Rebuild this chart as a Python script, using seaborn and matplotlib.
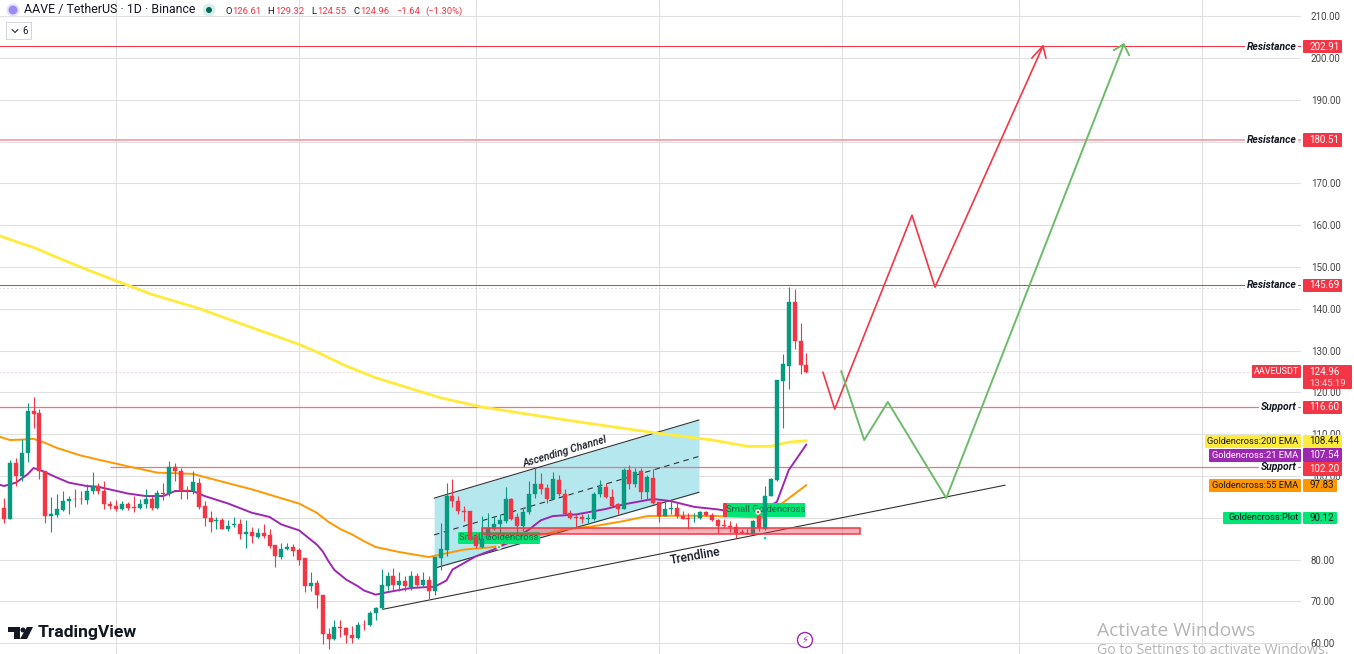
#!/usr/bin/env python
import matplotlib
matplotlib.use("Agg")
import matplotlib.pyplot as plt
from matplotlib.patches import Circle, FancyBboxPatch, Polygon, Rectangle
from matplotlib.transforms import Affine2D
import pandas as pd
import seaborn as sns

opens = [92.4, 89.7, 103.1, 100.0, 105.4, 115.5, 115.0, 101.2, 90.4, 90.7,
         91.8, 94.0, 94.5, 94.5, 94.2, 96.4, 97.7, 96.5, 93.3, 92.9,
         92.0, 93.4, 92.6, 92.3, 93.4, 94.4, 92.4, 96.0, 95.6, 102.2,
         101.2, 96.6, 96.4, 98.4, 92.9, 90.0, 89.2, 89.4, 87.4, 88.2,
         88.4, 86.0, 86.7, 85.4, 86.4, 85.9, 83.4, 80.7, 82.5, 83.0,
         82.2, 80.3, 73.6, 74.3, 71.4, 62.2, 60.9, 63.9, 63.6, 62.0,
         61.2, 64.4, 64.3, 67.2, 68.4, 73.6, 76.0, 73.8, 74.9, 73.5,
         76.0, 73.8, 75.1, 72.5, 80.3, 82.4, 95.2, 94.0, 91.7, 91.6,
         85.3, 83.0, 85.6, 87.3, 88.6, 89.2, 94.4, 90.1, 88.1, 91.3,
         95.6, 98.1, 97.1, 94.5, 99.0, 95.8, 91.2, 90.1, 90.2, 89.7,
         89.7, 95.6, 97.4, 95.0, 93.4, 92.1, 101.5, 98.0, 101.1, 96.1,
         99.6, 93.7, 90.5, 92.1, 92.4, 90.5, 90.0, 89.9, 89.9, 91.3,
         90.7, 89.5, 88.3, 88.1, 87.9, 86.6, 86.4, 86.0, 90.4, 87.3,
         95.2, 99.0, 122.7, 126.3, 141.6, 132.4, 126.61]
closes = [89.7, 103.1, 100.0, 105.5, 115.5, 114.8, 101.2, 90.4, 90.8, 92.0,
          94.1, 94.4, 94.4, 94.4, 96.5, 97.7, 96.5, 93.2, 92.8, 92.0,
          93.4, 92.4, 92.4, 93.4, 94.4, 92.4, 96.0, 95.8, 102.2, 101.2,
          96.4, 96.3, 98.5, 92.6, 89.9, 89.1, 89.4, 87.4, 88.1, 88.4,
          86.0, 86.7, 85.6, 86.4, 85.6, 83.2, 80.8, 82.6, 83.0, 82.1,
          80.0, 73.6, 74.3, 71.4, 62.1, 60.9, 63.8, 63.6, 61.9, 61.2,
          64.4, 64.3, 67.3, 68.4, 73.8, 76.0, 73.8, 74.9, 73.6, 76.0,
          73.8, 75.1, 72.5, 80.6, 82.6, 95.2, 94.0, 91.6, 91.4, 85.0,
          83.2, 85.0, 87.6, 88.6, 89.4, 94.4, 89.7, 88.1, 91.3, 95.8,
          98.2, 96.9, 94.5, 99.2, 95.6, 91.0, 90.0, 89.9, 89.7, 90.0,
          95.8, 97.4, 95.0, 92.9, 92.0, 101.5, 98.0, 100.9, 96.1, 99.8,
          93.6, 90.5, 92.1, 92.4, 90.5, 89.7, 89.8, 90.0, 91.3, 90.6,
          89.4, 88.1, 88.0, 87.9, 86.4, 86.4, 86.2, 89.3, 87.6, 95.3,
          99.2, 123.0, 126.7, 141.6, 132.3, 126.5, 124.96]
highs = [94.8, 103.9, 104.3, 108.9, 117.5, 119.0, 116.1, 101.2, 95.0, 95.8,
         96.4, 95.3, 96.9, 96.4, 98.0, 101.0, 98.4, 98.8, 93.9, 94.2,
         94.0, 93.7, 95.2, 94.5, 96.8, 95.2, 96.6, 98.4, 103.7, 103.0,
         102.0, 97.7, 101.2, 99.6, 93.9, 91.7, 90.2, 90.0, 89.4, 90.2,
         89.7, 89.4, 87.8, 87.6, 88.6, 87.2, 83.6, 84.0, 84.0, 83.8,
         82.8, 80.3, 77.1, 75.2, 71.6, 63.6, 65.6, 65.5, 63.9, 64.0,
         65.1, 65.6, 67.6, 68.7, 77.8, 77.0, 78.0, 77.0, 76.0, 77.2,
         76.8, 77.0, 76.0, 80.6, 88.8, 98.4, 99.3, 95.2, 92.8, 91.6,
         86.4, 90.4, 91.2, 90.4, 90.8, 97.4, 94.8, 91.2, 92.6, 98.7,
         101.9, 100.6, 98.0, 100.9, 100.3, 96.9, 91.8, 90.8, 91.0, 90.8,
         96.1, 99.0, 98.4, 96.9, 93.6, 101.9, 102.7, 101.9, 101.9, 100.3,
         101.7, 93.7, 93.7, 94.0, 93.6, 91.6, 91.2, 91.2, 91.6, 91.6,
         91.2, 89.6, 89.6, 89.2, 88.8, 87.2, 87.6, 89.4, 92.0, 97.7,
         99.5, 123.0, 129.1, 145.3, 144.8, 136.7, 129.32]
lows = [88.8, 89.7, 97.7, 98.8, 103.3, 111.5, 99.3, 88.8, 86.5, 90.1,
        91.6, 91.0, 92.5, 93.4, 93.2, 95.6, 95.8, 92.1, 92.1, 91.5,
        91.8, 91.8, 91.3, 92.1, 92.4, 91.8, 92.0, 94.2, 95.2, 98.8,
        94.5, 94.5, 95.6, 92.1, 88.0, 86.5, 87.3, 87.2, 86.8, 87.8,
        84.8, 82.7, 84.0, 85.2, 85.2, 82.8, 78.3, 80.2, 82.2, 80.8,
        78.6, 72.2, 72.4, 68.4, 59.7, 58.6, 60.7, 61.5, 60.1, 60.1,
        61.0, 63.2, 64.0, 65.5, 68.2, 72.7, 72.4, 72.4, 72.4, 72.8,
        73.5, 73.5, 70.6, 71.4, 77.6, 80.8, 92.6, 90.8, 89.2, 84.6,
        82.8, 82.8, 84.8, 87.0, 86.4, 88.8, 89.4, 86.0, 86.8, 90.8,
        94.8, 95.6, 93.6, 94.4, 95.2, 90.8, 89.7, 87.8, 88.8, 88.8,
        89.4, 95.0, 94.8, 92.6, 90.8, 92.0, 96.9, 97.4, 94.5, 94.4,
        93.4, 88.9, 90.4, 90.8, 90.0, 89.6, 87.3, 88.9, 89.7, 90.4,
        89.2, 86.4, 87.6, 86.5, 85.2, 86.2, 86.0, 86.0, 86.8, 87.0,
        95.2, 98.8, 111.5, 120.9, 130.5, 124.5, 124.55]

# moving averages at these candle numbers
ema200_day = [-1, 3, 5, 9, 14, 19, 25, 33, 42, 50, 53, 58, 63, 69, 74, 81, 91, 101, 111, 120, 126, 130, 133, 136]
ema200 = [157.6, 155.6, 154.7, 152.3, 149.4, 146.7, 143.5, 140.1, 135.5, 131.5, 129.7, 126.3, 123.5,
          120.9, 118.7, 116.5, 114.3, 112.2, 110.2, 108.6, 107.1, 107.1, 108.1, 108.44]
ema55_day = [-1, 1, 3, 5, 7, 9, 13, 16, 22, 26, 32, 36, 42, 50, 53, 55, 57, 59, 61, 63, 67, 72, 74,
             78, 83, 89, 95, 100, 105, 109, 115, 121, 129, 132, 136]
ema55 = [109.5, 108.6, 108.7, 108.9, 107.9, 106.7, 104.9, 103.9, 102.0, 100.8, 100.5, 99.0,
         96.8, 93.4, 91.2, 89.0, 87.3, 86.0, 84.4, 83.0, 81.8, 80.6, 81.2, 82.4, 83.0, 85.2, 87.2, 88.0,
         89.2, 90.4, 90.5, 90.4, 90.0, 93.6, 97.83]
ema21_day = [-1, 0, 2, 4, 5, 6, 9, 11, 14, 16, 21, 24, 27, 29, 32, 34, 38, 42, 45, 47, 50, 53, 54,
             55, 56, 58, 60, 61, 63, 65, 69, 73, 75, 76, 78, 80, 83, 86, 89, 91, 93, 97, 102, 105, 110,
             113, 117, 121, 125, 128, 131, 133, 136]
ema21 = [98.0, 97.6, 98.4, 100.4, 101.9, 101.5, 99.6, 98.4, 97.6, 97.4, 95.8, 95.2, 95.2, 96.4, 96.4,
         95.2, 93.4, 91.2, 90.2, 88.4, 87.0, 83.6, 82.0, 79.6, 77.5, 75.2, 73.6, 72.6, 71.6, 72.2, 73.2,
         73.5, 75.0, 77.6, 79.2, 80.8, 82.4, 84.4, 87.2, 89.4, 90.4, 90.8, 92.1, 93.2, 94.5,
         94.0, 92.6, 92.0, 91.0, 91.5, 93.8, 101.4, 107.54]

# drawings on the chart
red_path_day = [138.8, 140.8, 153.9, 157.8, 176.1]
red_path = [124.85, 116.0, 162.4, 145.2, 202.9]
red_head_day = [174.2, 176.1, 176.6]
red_head = [200.0, 202.9, 200.0]
green_path_day = [141.9, 145.8, 149.8, 159.7, 189.8]
green_path = [125.1, 108.6, 117.7, 94.7, 203.3]
green_head_day = [188.1, 189.8, 190.7]
green_head = [201.9, 203.3, 200.7]
trend_day = [64.2, 169.7]
trend = [68.1, 97.8]
channel_day = [72.9, 117.8]
channel_top = [94.7, 113.4]
channel_mid = [85.9, 104.7]
channel_bottom = [77.9, 96.1]
zone_day = [81, 145]
zone = [86.1, 87.5]

resistance = [202.91, 145.69]
soft_resistance = 180.51
support = [116.60, 102.20]
last_price = 124.96
recent_high = 145.0
price_ticks = list(range(60, 220, 10))
month_starts = [19, 50, 80, 111, 142, 172, 203]

RED = "#F23645"
SOFT_RED = "#EE7280"
GREEN = "#089981"
GRID = "#E0E0E0"
W, H = 1354, 654

sns.set_theme(style="white")
plt.rcParams["font.family"] = ["Roboto", "DejaVu Sans"]

fig = plt.figure(figsize=(W / 100, H / 100), dpi=100)
ax = fig.add_axes([0, 0, 1301 / W, 1])
ax.set_xlim(-0.68, 219.83)
ax.set_ylim(57.4, 213.9)
px = Affine2D().scale(1, -1).translate(0, H)  # top-left pixels, for the screen furniture

ax.set_xticks(month_starts)
ax.set_yticks(price_ticks)
ax.set_yticklabels([f"{p:.2f}" for p in price_ticks], fontsize=7, color="#444444")
ax.set_xticklabels([])
ax.yaxis.tick_right()
ax.tick_params(axis="both", length=0, pad=7)
ax.grid(True, color=GRID, lw=0.8)
ax.set_axisbelow(True)
sns.despine(ax=ax, left=True, bottom=True, right=True, top=True)

# channel and zone
ax.fill_between(channel_day, channel_bottom, channel_top, color="#B5E7EF", lw=0, zorder=1)

df = pd.DataFrame({"open": opens, "high": highs, "low": lows, "close": closes})
df["day"] = df.index
df["up"] = df["close"] >= df["open"]
colors = df["up"].map({True: GREEN, False: RED})
ax.vlines(df["day"], df["low"], df["high"], colors=colors, lw=0.8, zorder=3)
ax.bar(df["day"], (df["close"] - df["open"]).abs(), bottom=df[["open", "close"]].min(axis=1),
       width=0.68, color=colors, edgecolor=colors, lw=0.3, zorder=3)


def line(xs, ys, color, lw, zorder=2.5, **kw):
    sns.lineplot(x=xs, y=ys, color=color, lw=lw, sort=False, estimator=None, ax=ax,
                 zorder=zorder, legend=False, **kw)


for xs, ys in [(channel_day, channel_top), (channel_day, channel_bottom), (trend_day, trend)]:
    line(xs, ys, "#333333", 0.8)
line(channel_day, channel_mid, "#333333", 0.8, linestyle=(0, (5, 4)))
line(ema200_day, ema200, "#FFEB3B", 2.0)
line(ema21_day, ema21, "#9C27B0", 1.4, zorder=2.7)
line(ema55_day, ema55, "#FF9800", 1.4, zorder=2.6)

# level lines
ax.hlines(resistance, -1, 220, color=RED, lw=0.75, zorder=2)
ax.hlines(soft_resistance, -1, 220, color="#F6A8B0", lw=1.4, zorder=2)
ax.hlines(support[0], -1, 220, color=SOFT_RED, lw=0.9, zorder=2)
ax.hlines(support[1], 18, 220, color=SOFT_RED, lw=0.9, zorder=2)
ax.hlines(recent_high, -1, 220, color="#C4C4C4", lw=0.72, linestyle=(0, (1, 3)), zorder=2)
ax.hlines(last_price, -1, 220, color="#F9B5BA", lw=0.72, linestyle=(0, (1, 3)), zorder=2)

ax.add_patch(Rectangle((zone_day[0], zone[0]), zone_day[1] - zone_day[0], zone[1] - zone[0],
                       fc=(0.95, 0.21, 0.27, 0.38), ec=RED, lw=1.1, zorder=3.2))

line(red_path_day, red_path, RED, 1.2, zorder=4)
line(red_head_day, red_head, RED, 1.2, zorder=4)
line(green_path_day, green_path, "#6CBB6A", 1.4, zorder=4)
line(green_head_day, green_head, "#6CBB6A", 1.4, zorder=4)

ax.text(565, 452, "Ascending Channel", transform=px, rotation=16.6, rotation_mode="anchor",
        ha="center", va="center", fontsize=7.5, color="#131722", style="italic", fontweight="medium", zorder=5)
ax.text(695, 556, "Trendline", transform=px, rotation=10, rotation_mode="anchor",
        ha="center", va="center", fontsize=8.7, color="#131722", fontweight="medium", zorder=5)


def box(x0, y0, x1, y1, color, zorder=2.9, target=ax):
    p = FancyBboxPatch((x0 + 1, y0 + 1), x1 - x0 - 2, y1 - y0 - 2, boxstyle="round,pad=1",
                       fc=color, ec="none", transform=px, zorder=zorder)
    target.add_patch(p) if target is ax else target.add_artist(p)


# signal labels, candles run over them
box(723, 503, 805, 517, RED, zorder=2.8)
box(458, 532, 540, 544, "#00E676")
box(727, 503, 805, 517, "#00E676")
ax.text(499, 538, "Small Goldencross", transform=px, ha="center", va="center", fontsize=6.8,
        color="#1B5E3B", zorder=2.95)
ax.text(766, 510, "Small Goldencross", transform=px, ha="center", va="center", fontsize=6.8,
        color="#1B5E3B", zorder=2.95)
ax.add_patch(Circle((499, 547), 2, fc="#00E676", transform=px, zorder=3.1))
ax.add_patch(Circle((765, 538), 2, fc="#00E676", transform=px, zorder=3.1))
ax.add_patch(Circle((758, 512), 2, fc=RED, transform=px, zorder=3.1))

# price scale tags
value_tags = [("202.91", 40, 53, 1342, RED, "white"), ("180.51", 133, 147, 1342, RED, "white"),
              ("145.69", 279, 292, 1342, RED, "white"), ("116.60", 401, 414, 1342, RED, "white"),
              ("108.44", 435, 448, 1342, "#FFEB3B", "#131722"), ("107.54", 448, 462, 1342, "#9C27B0", "white"),
              ("102.20", 462, 476, 1342, RED, "white"), ("97.83", 479, 492, 1337, "#FF9800", "#131722"),
              ("90.12", 512, 524, 1337, "#00E676", "#131722")]
for text, y0, y1, x1, fc, tc in value_tags:
    box(1303, y0, x1, y1, fc, zorder=6, target=fig)
    fig.text(1309, (y0 + y1) / 2, text, transform=px, va="center", fontsize=7, color=tc, zorder=7)
box(1303, 365, 1352, 389, RED, zorder=6, target=fig)
fig.text(1309, 372, "124.96", transform=px, va="center", fontsize=7, color="white", zorder=7)
fig.text(1309, 383, "13:45:19", transform=px, va="center", fontsize=6.8, color="#FFD5D8", zorder=7)
box(1252, 365, 1301, 378, RED, zorder=6, target=fig)
fig.text(1276.5, 371.5, "AAVEUSDT", transform=px, ha="center", va="center", fontsize=6.6, color="white", zorder=7)

name_tags = [("Goldencross:200 EMA", 1205, 435, 448, "#FFEB3B", "#131722"),
             ("Goldencross:21 EMA", 1209, 449, 462, "#9C27B0", "white"),
             ("Goldencross:55 EMA", 1209, 479, 492, "#FF9800", "#131722"),
             ("Goldencross:Plot", 1223, 512, 524, "#00E676", "#131722")]
for text, x0, y0, y1, fc, tc in name_tags:
    box(x0, y0, 1301, y1, fc, zorder=6, target=fig)
    fig.text(1298.5, (y0 + y1) / 2, text, transform=px, ha="right", va="center", fontsize=6.7, color=tc, zorder=7)

level_names = [("Resistance", 46.5), ("Resistance", 140), ("Resistance", 285), ("Support", 407), ("Support", 467)]
for text, y in level_names:
    ax.text(1296.5, y, text, transform=px, ha="right", va="center", fontsize=7.5, style="italic",
            fontweight="bold", color="#131722", zorder=5, clip_on=False,
            bbox=dict(fc="white", ec="none", pad=1.2))

# header
fig.add_artist(Circle((13, 10), 5.5, fc="#9C8CF0", ec="#E5E2FB", lw=1.5, transform=px))
fig.text(24, 10, "AAVE / TetherUS · 1D · Binance", transform=px, va="center", fontsize=8.9, color="#131722")
fig.add_artist(Circle((209, 10), 6.5, fc="#D7EEE9", ec="none", transform=px))
fig.add_artist(Circle((209, 10), 3, fc="#006B5B", ec="none", transform=px))
ohlc_names = [("O", 226), ("H", 267), ("L", 311), ("C", 353)]
ohlc_text = [("126.61", 232), ("129.32", 275), ("124.55", 317), ("124.96", 360), ("−1.64", 396), ("(−1.30%)", 425)]
for text, x in ohlc_names:
    fig.text(x, 11, text, transform=px, va="center", fontsize=6.8, color="#131722")
for text, x in ohlc_text:
    fig.text(x, 11, text, transform=px, va="center", fontsize=6.8, color=RED)
fig.add_artist(FancyBboxPatch((7, 23), 24, 16, boxstyle="round,pad=0.5", fc="white", ec="#D1D4DC", lw=0.7, transform=px))
fig.add_artist(plt.Line2D([12, 15, 18], [29.5, 32.5, 29.5], color="#131722", lw=0.7, transform=px))
fig.text(22, 31.5, "6", transform=px, va="center", fontsize=7, color="#131722")

# logo
fig.add_artist(Polygon([(8, 627), (20, 627), (20, 639), (14, 639), (14, 632), (8, 632)], fc="#131722", ec="none", transform=px))
fig.add_artist(Circle((23, 630), 2.5, fc="#131722", ec="none", transform=px))
fig.add_artist(Polygon([(27, 627), (33, 627), (27, 639), (20, 639)], fc="#131722", ec="none", transform=px))
fig.text(38, 633, "TradingView", transform=px, va="center", fontsize=12.6, fontweight="bold", color="#131722")

fig.add_artist(Circle((805, 640), 7.5, fc="white", ec="#9C27B0", lw=1, transform=px))
fig.text(805, 640, "⚡", transform=px, ha="center", va="center", fontsize=7, color="#9C27B0", family="DejaVu Sans")

# windows watermark
fig.text(1097, 631, "Activate Windows", transform=px, va="center", fontsize=13.9, color="#B5B5B5", family="Open Sans")
fig.text(1097, 651, "Go to Settings to activate Windows.", transform=px, va="center", fontsize=10.2, color="#B5B5B5", family="Open Sans")

fig.savefig("out.png", dpi=100, facecolor="white")
